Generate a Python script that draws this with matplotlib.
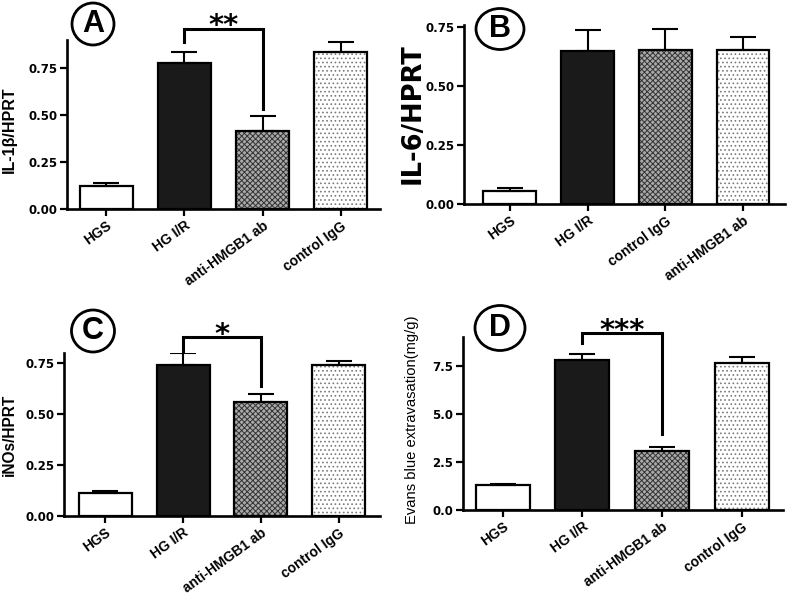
import matplotlib
matplotlib.use("Agg")
import matplotlib.pyplot as plt
from matplotlib.patches import Ellipse

plt.rcParams['font.family'] = ['DejaVu Sans']
plt.rcParams['hatch.linewidth'] = 0.7

# ---------------- data ----------------
cats_A = ["HGS", "HG I/R", "anti-HMGB1 ab", "control IgG"]
vals_A = [0.12, 0.78, 0.415, 0.835]
errs_A = [0.02, 0.054, 0.08, 0.055]
sig_A = "**"
brk_A = [0.89, 0.96, 0.53]   # left leg start, top, right leg end

cats_B = ["HGS", "HG I/R", "control IgG", "anti-HMGB1 ab"]
vals_B = [0.057, 0.65, 0.655, 0.655]
errs_B = [0.013, 0.087, 0.09, 0.052]

cats_C = ["HGS", "HG I/R", "anti-HMGB1 ab", "control IgG"]
vals_C = [0.113, 0.74, 0.56, 0.74]
errs_C = [0.01, 0.058, 0.04, 0.02]
sig_C = "*"
brk_C = [0.81, 0.877, 0.64]

cats_D = ["HGS", "HG I/R", "anti-HMGB1 ab", "control IgG"]
vals_D = [1.3, 7.8, 3.07, 7.65]
errs_D = [0.06, 0.3, 0.21, 0.32]
sig_D = "***"
brk_D = [8.7, 9.2, 3.96]

W, H = 787, 594
fig = plt.figure(figsize=(W / 100, H / 100), dpi=100)
fig.patch.set_facecolor('white')

ARIAL = ['Liberation Sans', 'DejaVu Sans']


def px_axes(x0, y0, x1, y1):
    return fig.add_axes([x0 / W, 1 - y1 / H, (x1 - x0) / W, (y1 - y0) / H])


styles = [
    dict(face='white', hatch=None, hcol=None),
    dict(face='#1a1a1a', hatch=None, hcol=None),
    dict(face='#aaaaaa', hatch='xxxxxx', hcol='#333333'),
    dict(face='white', hatch='....', hcol='#7a7a7a'),
]


def panel(ax, cats, vals, errs, ylim, xlim, yticks, yfmt):
    xs = list(range(len(cats)))
    bw = 0.68
    for i, (x, v) in enumerate(zip(xs, vals)):
        st = styles[i]
        if st['hatch']:
            ax.bar(x, v, width=bw, color=st['face'], edgecolor=st['hcol'],
                   hatch=st['hatch'], linewidth=0, zorder=2)
            ax.bar(x, v, width=bw, facecolor='none', edgecolor='black',
                   linewidth=1.6, zorder=3)
        else:
            ax.bar(x, v, width=bw, color=st['face'], edgecolor='black',
                   linewidth=1.6, zorder=3)
    ax.errorbar(xs, vals, yerr=[[0] * len(errs), errs], fmt='none',
                ecolor='black', elinewidth=1.5, capsize=9.5, capthick=1.5,
                zorder=4)
    ax.set_xlim(*xlim)
    ax.set_ylim(*ylim)
    ax.set_yticks(yticks)
    ax.set_yticklabels([yfmt.format(t) for t in yticks],
                       fontsize=8.5, fontweight='bold')
    ax.set_xticks(xs)
    ax.set_xticklabels(cats, rotation=36, ha='right', va='top',
                       rotation_mode='anchor', fontsize=10,
                       fontweight='bold', family=ARIAL)
    ax.tick_params(axis='x', pad=2)
    ax.tick_params(axis='both', direction='out', length=5, width=1.6,
                   color='black')
    ax.tick_params(axis='y', pad=2)
    for s in ['top', 'right']:
        ax.spines[s].set_visible(False)
    for s in ['left', 'bottom']:
        ax.spines[s].set_linewidth(1.9)
    ax.set_facecolor('none')


def bracket(ax, brk, sig):
    y1, yt, y2 = brk
    ax.plot([1, 1, 2, 2], [y1, yt, yt, y2], color='black', lw=2.2,
            clip_on=False, solid_joinstyle='miter', zorder=5)
    ax.annotate(sig, xy=(1.5, yt), xytext=(0, -4), textcoords='offset points',
                ha='center', va='baseline', fontsize=21, fontweight='bold',
                annotation_clip=False)


axA = px_axes(67, 40, 380, 209)
panel(axA, cats_A, vals_A, errs_A, (0, 0.9), (-0.5, 3.5),
      [0, 0.25, 0.5, 0.75], "{:.2f}")
bracket(axA, brk_A, sig_A)

axB = px_axes(464, 25, 785, 204)
panel(axB, cats_B, vals_B, errs_B, (0, 0.76), (-0.59, 3.54),
      [0, 0.25, 0.5, 0.75], "{:.2f}")

axC = px_axes(64, 353, 380, 516)
panel(axC, cats_C, vals_C, errs_C, (0, 0.8), (-0.53, 3.53),
      [0, 0.25, 0.5, 0.75], "{:.2f}")
bracket(axC, brk_C, sig_C)

axD = px_axes(463, 337, 783, 510)
panel(axD, cats_D, vals_D, errs_D, (0, 9.0), (-0.5, 3.52),
      [0, 2.5, 5.0, 7.5], "{:.1f}")
bracket(axD, brk_D, sig_D)

# y labels
def ylab(x, y, s, size, weight, fam):
    fig.text(x / W, 1 - y / H, s, rotation=90, ha='center', va='center',
             fontsize=size, fontweight=weight, family=fam)

ylab(9, 130, "IL-1β/HPRT", 11.5, 'bold', ARIAL)
ylab(413, 114, "IL-6/HPRT", 18.5, 'bold', ['DejaVu Sans'])
ylab(9, 435, "iNOs/HPRT", 11.2, 'bold', ARIAL)
ylab(412, 420, "Evans blue extravasation(mg/g)", 10.6, 'normal', ARIAL)

# panel letters
def letter(cx, cy, w, h, s):
    fig.patches.append(Ellipse((cx / W, 1 - cy / H), w / W, h / H,
                               transform=fig.transFigure, facecolor='white',
                               edgecolor='black', lw=2.0, zorder=10))
    fig.text(cx / W, 1 - cy / H, s, ha='center', va='center',
             fontsize=22, fontweight='bold', family=ARIAL, zorder=11)

letter(93, 24, 42, 42, "A")
letter(500, 29, 48, 41, "B")
letter(93, 331, 43, 42, "C")
letter(500, 328, 50, 45, "D")

fig.savefig("out.png", dpi=100, facecolor='white')
